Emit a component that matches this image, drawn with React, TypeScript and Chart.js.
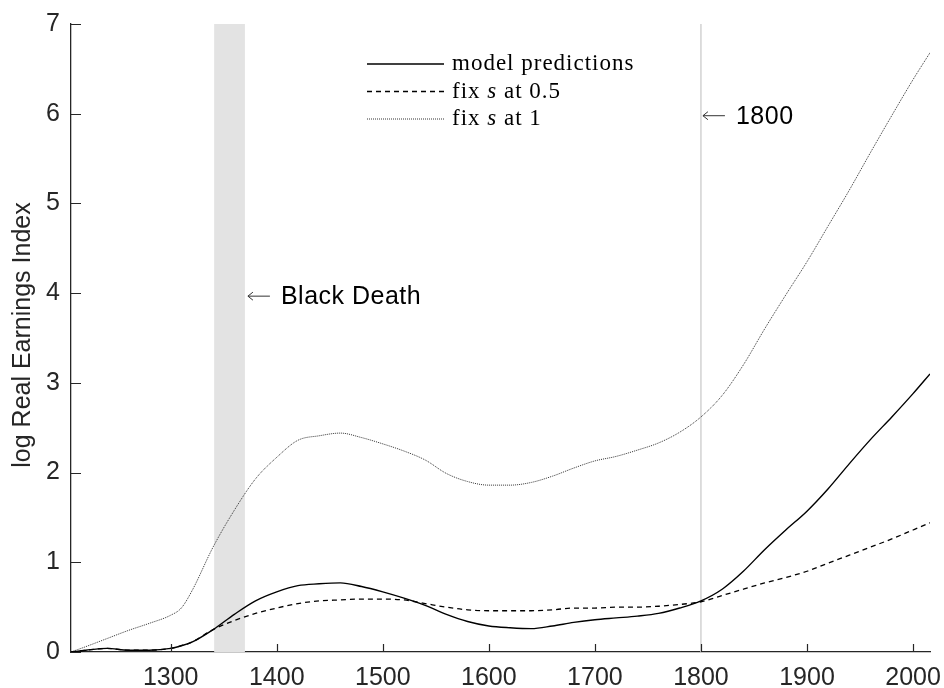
import React, { useEffect, useRef } from 'react';
import { Chart, registerables } from 'chart.js';

Chart.register(...registerables);

// ---- data ----
const years = [
  1206, 1220, 1240, 1260, 1280, 1300, 1310, 1320, 1340, 1360, 1380, 1400, 1420, 1440,
  1460, 1480, 1500, 1520, 1540, 1560, 1580, 1600, 1620, 1640, 1660, 1680, 1700, 1720,
  1740, 1760, 1780, 1800, 1820, 1840, 1860, 1880, 1900, 1920, 1940, 1960, 1980, 2000, 2016,
];
const modelPredictions = [
  0, 0.02, 0.04, 0.02, 0.02, 0.04, 0.07, 0.11, 0.25, 0.42, 0.57, 0.67, 0.74, 0.76,
  0.77, 0.73, 0.67, 0.6, 0.52, 0.42, 0.34, 0.29, 0.27, 0.26, 0.29, 0.33, 0.36, 0.38,
  0.4, 0.43, 0.49, 0.57, 0.7, 0.9, 1.14, 1.36, 1.57, 1.82, 2.1, 2.37, 2.62, 2.88, 3.1,
];
const fixSHalf = [
  0, 0.02, 0.04, 0.02, 0.02, 0.04, 0.07, 0.11, 0.25, 0.35, 0.43, 0.49, 0.54, 0.57,
  0.58, 0.59, 0.59, 0.58, 0.54, 0.5, 0.47, 0.46, 0.46, 0.46, 0.47, 0.49, 0.49, 0.5,
  0.5, 0.51, 0.53, 0.56, 0.63, 0.7, 0.77, 0.83, 0.9, 0.99, 1.08, 1.17, 1.26, 1.36, 1.44,
];
const fixSOne = [
  0, 0.06, 0.15, 0.24, 0.32, 0.41, 0.49, 0.68, 1.17, 1.58, 1.93, 2.17, 2.36, 2.41,
  2.44, 2.39, 2.32, 2.24, 2.14, 1.99, 1.9, 1.86, 1.86, 1.89, 1.96, 2.05, 2.13, 2.18,
  2.25, 2.33, 2.45, 2.62, 2.86, 3.2, 3.6, 3.98, 4.35, 4.75, 5.15, 5.57, 5.98, 6.38, 6.68,
];
const xTickValues = [1300, 1400, 1500, 1600, 1700, 1800, 1900, 2000];
const yTickValues = [0, 1, 2, 3, 4, 5, 6, 7];
const xRange = [1206, 2016];
const yRange = [0, 7];
const blackDeathSpan = [1341, 1370];
const markYear = 1800;
const blackDeathLabelValue = 4;
const markLabelValue = 6;
const seriesNames = ['model predictions', 'fix s at 0.5', 'fix s at 1'];

const AXIS = '#262626';
const SANS = '"Liberation Sans", Arial, sans-serif';
const SERIF = '"Liberation Serif", "Times New Roman", serif';

function drawArrow(ctx: CanvasRenderingContext2D, x: number, y: number, len: number) {
  ctx.beginPath();
  ctx.moveTo(x, y);
  ctx.lineTo(x + len, y);
  ctx.moveTo(x + 5, y - 4);
  ctx.lineTo(x, y);
  ctx.lineTo(x + 5, y + 4);
  ctx.stroke();
}

const overlayPlugin = {
  id: 'overlay',
  beforeDatasetsDraw(chart: any) {
    const { ctx, chartArea: a, scales } = chart;
    const x = scales.x;
    ctx.save();
    const x0 = x.getPixelForValue(blackDeathSpan[0]);
    const x1 = x.getPixelForValue(blackDeathSpan[1]);
    ctx.fillStyle = '#e3e3e3';
    ctx.fillRect(x0, a.top, x1 - x0, a.bottom - a.top);
    const xm = x.getPixelForValue(markYear);
    ctx.strokeStyle = '#d2d2d2';
    ctx.lineWidth = 1.5;
    ctx.beginPath();
    ctx.moveTo(xm, a.top);
    ctx.lineTo(xm, a.bottom);
    ctx.stroke();
    ctx.restore();
  },
  afterDraw(chart: any) {
    const { ctx, chartArea: a, scales } = chart;
    const x = scales.x;
    const y = scales.y;
    ctx.save();
    // inward ticks
    ctx.strokeStyle = AXIS;
    ctx.lineWidth = 1.2;
    ctx.beginPath();
    for (const v of yTickValues) {
      const py = Math.round(y.getPixelForValue(v)) + 0.5;
      ctx.moveTo(a.left, py);
      ctx.lineTo(a.left + 10, py);
    }
    for (const v of xTickValues) {
      const px = Math.round(x.getPixelForValue(v)) + 0.5;
      ctx.moveTo(px, a.bottom);
      ctx.lineTo(px, a.bottom - 8);
    }
    ctx.stroke();

    // y axis title
    ctx.save();
    ctx.translate(30, (a.top + a.bottom) / 2 - 3);
    ctx.rotate(-Math.PI / 2);
    ctx.font = `25px ${SANS}`;
    ctx.fillStyle = AXIS;
    ctx.textAlign = 'center';
    ctx.textBaseline = 'alphabetic';
    ctx.fillText('log Real Earnings Index', 0, 0);
    ctx.restore();

    // annotations
    ctx.save();
    ctx.font = `25px ${SANS}`;
    (ctx as any).letterSpacing = '0.5px';
    ctx.fillStyle = '#000';
    ctx.textBaseline = 'middle';
    ctx.textAlign = 'left';
    ctx.strokeStyle = '#333';
    ctx.lineWidth = 1;
    const bx = x.getPixelForValue(blackDeathSpan[1]) + 3;
    const by = y.getPixelForValue(blackDeathLabelValue) + 3;
    drawArrow(ctx, bx, by, 22);
    ctx.fillText('Black Death', bx + 33, by + 1);
    const mx = x.getPixelForValue(markYear) + 2;
    const my = y.getPixelForValue(markLabelValue) + 2;
    drawArrow(ctx, mx, my, 22);
    ctx.fillText('1800', mx + 33, my + 1);
    ctx.restore();

    // legend
    const styles = chart.data.datasets;
    const lx0 = 367;
    const lx1 = 444;
    const rows = [64, 91.5, 119];
    const fs = 23;
    (ctx as any).letterSpacing = '1px';
    for (let i = 0; i < 3; i++) {
      const ds = styles[i];
      const ry = rows[i];
      ctx.save();
      ctx.strokeStyle = ds.borderColor;
      ctx.lineWidth = ds.borderWidth;
      ctx.setLineDash(ds.borderDash || []);
      ctx.beginPath();
      ctx.moveTo(lx0, ry);
      ctx.lineTo(lx1, ry);
      ctx.stroke();
      ctx.restore();
      const name = seriesNames[i];
      let tx = 452;
      ctx.fillStyle = '#000';
      ctx.textBaseline = 'alphabetic';
      ctx.textAlign = 'left';
      const base = ry + 6;
      const parts = name.split(' s ');
      if (parts.length === 2) {
        ctx.font = `${fs}px ${SERIF}`;
        ctx.fillText(parts[0] + ' ', tx, base);
        tx += ctx.measureText(parts[0] + ' ').width;
        ctx.font = `italic ${fs}px ${SERIF}`;
        ctx.fillText('s', tx, base);
        tx += ctx.measureText('s').width;
        ctx.font = `${fs}px ${SERIF}`;
        ctx.fillText(' ' + parts[1], tx, base);
      } else {
        ctx.font = `${fs}px ${SERIF}`;
        ctx.fillText(name, tx, base);
      }
    }
    ctx.restore();
  },
};

export default function App() {
  const ref = useRef<HTMLCanvasElement | null>(null);
  useEffect(() => {
    if (!ref.current) return;
    const toPts = (vals: number[]) => years.map((yr, i) => ({ x: yr, y: vals[i] }));
    const chart = new Chart(ref.current, {
      type: 'line',
      data: {
        datasets: [
          {
            label: seriesNames[0],
            data: toPts(modelPredictions),
            borderColor: '#000',
            borderWidth: 1.4,
            pointRadius: 0,
            cubicInterpolationMode: 'monotone',
          },
          {
            label: seriesNames[1],
            data: toPts(fixSHalf),
            borderColor: '#000',
            borderWidth: 1.3,
            borderDash: [5, 4],
            pointRadius: 0,
            cubicInterpolationMode: 'monotone',
          },
          {
            label: seriesNames[2],
            data: toPts(fixSOne),
            borderColor: '#333',
            borderWidth: 1,
            borderDash: [1, 1],
            pointRadius: 0,
            cubicInterpolationMode: 'monotone',
          },
        ] as any,
      },
      options: {
        animation: false,
        responsive: false,
        devicePixelRatio: 1,
        layout: { padding: { top: 24, right: 14, left: 0, bottom: 0 } },
        plugins: { legend: { display: false }, tooltip: { enabled: false } },
        scales: {
          x: {
            type: 'linear',
            min: xRange[0],
            max: xRange[1],
            grid: { display: false, drawTicks: false },
            border: { display: true, color: AXIS, width: 1.3 },
            afterBuildTicks: (s: any) => {
              s.ticks = xTickValues.map((v) => ({ value: v }));
            },
            afterFit: (s: any) => {
              s.height = 36;
              s.paddingLeft = 0;
              s.paddingRight = 0;
            },
            ticks: {
              color: AXIS,
              font: { family: SANS, size: 25 },
              padding: 11,
              maxRotation: 0,
              autoSkip: false,
              callback: (v: any) => String(v),
            },
          },
          y: {
            type: 'linear',
            min: yRange[0],
            max: yRange[1],
            grid: { display: false, drawTicks: false },
            border: { display: true, color: AXIS, width: 1.3 },
            afterBuildTicks: (s: any) => {
              s.ticks = yTickValues.map((v) => ({ value: v }));
            },
            afterFit: (s: any) => {
              s.width = 71;
              s.paddingTop = 0;
              s.paddingBottom = 0;
            },
            ticks: {
              color: AXIS,
              font: { family: SANS, size: 25 },
              padding: 11,
              callback: (v: any) => String(v),
            },
          },
        },
      } as any,
      plugins: [overlayPlugin],
    });
    return () => chart.destroy();
  }, []);
  return (
    <div style={{ position: 'fixed', left: 0, top: 0, width: 944, height: 688, background: '#fff' }}>
      <canvas ref={ref} width={944} height={688} style={{ width: 944, height: 688, display: 'block' }} />
    </div>
  );
}
